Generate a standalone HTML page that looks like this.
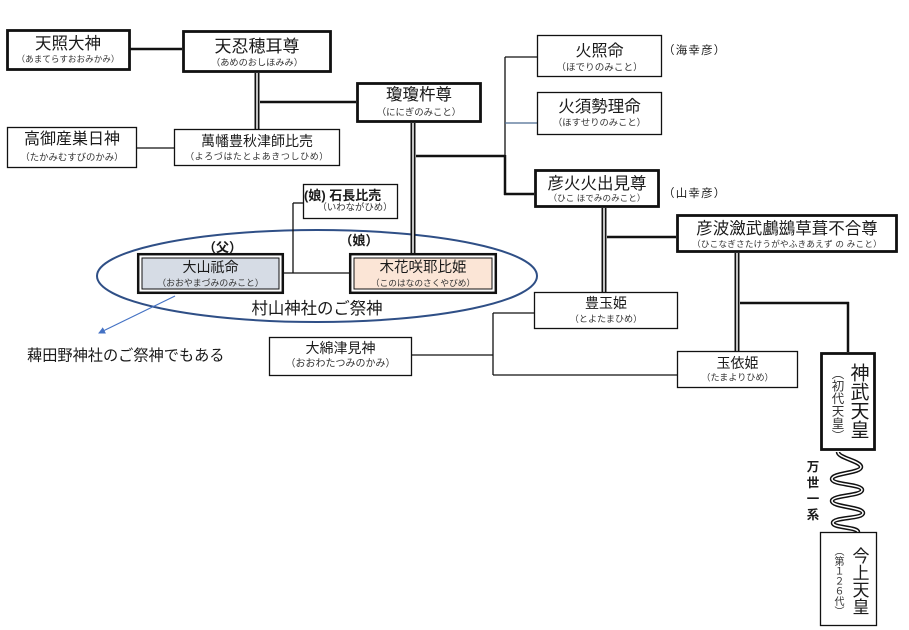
<!DOCTYPE html>
<html><head><meta charset="utf-8"><style>
html,body{margin:0;padding:0;background:#fff;}
body{position:relative;width:909px;height:630px;overflow:hidden;}
svg{display:block;position:absolute;left:0;top:0;}
text{font-family:"Liberation Sans","Noto Sans CJK JP",sans-serif;fill:#1a1a1a;}
.f{fill:#333;}
.v{position:absolute;writing-mode:vertical-rl;font-family:"Liberation Sans","Noto Sans CJK JP",sans-serif;color:#1a1a1a;line-height:1;white-space:nowrap;}
</style></head><body>
<svg width="909" height="630" viewBox="0 0 909 630" xmlns="http://www.w3.org/2000/svg">
<defs>
<marker id="ar" markerWidth="8" markerHeight="8" refX="6" refY="4" orient="auto" markerUnits="userSpaceOnUse">
<path d="M0,0.5 L7,4 L0,7.5 Z" fill="#4472c4"/>
</marker>
</defs>

<!-- ellipse -->
<ellipse cx="317" cy="276" rx="220" ry="46" fill="none" stroke="#2f4f86" stroke-width="2"/>

<!-- thick connectors -->
<g stroke="#111" stroke-width="2.5" fill="none">
<line x1="130" y1="49" x2="182" y2="49"/>
<line x1="260" y1="102" x2="356" y2="102"/>
<line x1="416" y1="156" x2="505" y2="156"/>
<line x1="505" y1="155" x2="505" y2="195"/>
<line x1="504" y1="194" x2="534" y2="194"/>
<line x1="607" y1="237" x2="676" y2="237"/>
<line x1="740" y1="303" x2="849" y2="303"/>
<line x1="848" y1="302" x2="848" y2="352"/>
</g>
<!-- thin connectors -->
<g stroke="#111" stroke-width="1.3" fill="none">
<line x1="137" y1="148" x2="174" y2="148"/>
<line x1="505" y1="57" x2="505" y2="156"/>
<line x1="505" y1="57" x2="537" y2="57"/>
<line x1="493" y1="313" x2="534" y2="313"/>
<line x1="493" y1="313" x2="493" y2="375"/>
<line x1="493" y1="375" x2="677" y2="375"/>
<line x1="412" y1="355" x2="493" y2="355"/>
<line x1="284" y1="273" x2="349" y2="273"/>
<line x1="293" y1="203" x2="293" y2="273"/>
<line x1="293" y1="203" x2="303" y2="203"/>
</g>
<line x1="505" y1="123" x2="537" y2="123" stroke="#4a6a90" stroke-width="1.2"/>

<!-- double lines -->
<g fill="none">
<g stroke="#111" stroke-width="5">
<line x1="257" y1="73" x2="257" y2="129"/>
<line x1="413" y1="123" x2="413" y2="253"/>
<line x1="604" y1="208" x2="604" y2="292"/>
<line x1="737" y1="253" x2="737" y2="351"/>
</g>
<g stroke="#fff" stroke-width="1.5">
<line x1="257" y1="73" x2="257" y2="129"/>
<line x1="413" y1="123" x2="413" y2="253"/>
<line x1="604" y1="208" x2="604" y2="292"/>
<line x1="737" y1="253" x2="737" y2="351"/>
</g>
</g>

<!-- wave -->
<path id="wv" d="M838,452 C838,458 861,461 861,467 C861,473 832,473 832,479 C832,485 862,484 862,490 C862,496 832,495 832,501 C832,507 863,507 863,513 C863,519 833,517 833,523 C833,528 858,527 858,532" fill="none" stroke="#111" stroke-width="4.5"/>
<path d="M838,452 C838,458 861,461 861,467 C861,473 832,473 832,479 C832,485 862,484 862,490 C862,496 832,495 832,501 C832,507 863,507 863,513 C863,519 833,517 833,523 C833,528 858,527 858,532" fill="none" stroke="#fff" stroke-width="1.5"/>

<!-- arrow -->
<line x1="175" y1="296" x2="99" y2="333" stroke="#4472c4" stroke-width="1.2" marker-end="url(#ar)"/>

<!-- boxes: thick -->
<g fill="#fff" stroke="#111" stroke-width="2.8">
<rect x="7.5" y="30.5" width="122" height="39"/>
<rect x="183.5" y="31.5" width="147" height="40"/>
<rect x="357.5" y="83.5" width="123" height="38"/>
<rect x="535.5" y="170.5" width="123" height="36"/>
<rect x="677.5" y="215.5" width="219" height="36"/>
<rect x="821.5" y="353.5" width="53" height="96"/>
</g>
<!-- boxes: thin -->
<g fill="#fff" stroke="#111" stroke-width="1.3">
<rect x="7.5" y="127.5" width="129" height="40"/>
<rect x="174.5" y="129.5" width="165" height="36"/>
<rect x="537.5" y="35.5" width="124" height="41"/>
<rect x="537.5" y="92.5" width="124" height="42"/>
<rect x="534.5" y="292.5" width="143" height="36"/>
<rect x="677.5" y="351.5" width="120" height="36"/>
<rect x="269.5" y="337.5" width="142" height="38"/>
<rect x="303.5" y="184.5" width="94" height="34"/>
<rect x="820.5" y="532.5" width="56" height="93"/>
</g>
<!-- double bordered -->
<rect x="138.2" y="254.2" width="144.6" height="38.6" fill="#fff" stroke="#111" stroke-width="2.5"/>
<rect x="142" y="258" width="137" height="31" fill="#d6dce5" stroke="#111" stroke-width="1"/>
<rect x="350.2" y="254.2" width="145.6" height="38.6" fill="#fff" stroke="#111" stroke-width="2.5"/>
<rect x="354" y="258" width="138" height="31" fill="#fbe5d6" stroke="#111" stroke-width="1"/>

<!-- text -->
<g text-anchor="middle">
<text x="68" y="49" font-size="16.5">天照大神</text>
<text class="f" x="68" y="62" font-size="8.6">（あまてらすおおみかみ）</text>

<text x="257" y="52" font-size="17">天忍穂耳尊</text>
<text class="f" x="257" y="65.5" font-size="9.2">（あめのおしほみみ）</text>

<text x="419" y="100" font-size="16.5">瓊瓊杵尊</text>
<text class="f" x="419" y="115.5" font-size="9.4">（ににぎのみこと）</text>

<text x="72" y="144" font-size="16">高御産巣日神</text>
<text class="f" x="72" y="160.5" font-size="9.4">（たかみむすびのかみ）</text>

<text x="257" y="146" font-size="14">萬幡豊秋津師比売</text>
<text class="f" x="257" y="159.5" font-size="9" letter-spacing="0.6">（よろづはたとよあきつしひめ）</text>

<text x="599.5" y="56" font-size="16">火照命</text>
<text class="f" x="599.5" y="70.5" font-size="9.6">（ほでりのみこと）</text>

<text x="599.5" y="112" font-size="16.5">火須勢理命</text>
<text class="f" x="599.5" y="125.5" font-size="9.3">（ほすせりのみこと）</text>

<text x="597" y="189" font-size="16.5">彦火火出見尊</text>
<text class="f" x="597" y="201" font-size="8.6">（ひこ ほでみのみこと）</text>

<text x="787" y="234" font-size="16.5">彦波瀲武鸕鷀草葺不合尊</text>
<text class="f" x="787" y="247" font-size="8.6" letter-spacing="0.2">（ひこなぎさたけうがやふきあえず の みこと）</text>

<text x="606" y="308" font-size="14">豊玉姫</text>
<text class="f" x="606" y="322" font-size="9.1">（とよたまひめ）</text>

<text x="737.5" y="368" font-size="14">玉依姫</text>
<text class="f" x="737.5" y="380.5" font-size="9.1">（たまよりひめ）</text>

<text x="340.5" y="353" font-size="14">大綿津見神</text>
<text class="f" x="340.5" y="366.5" font-size="10">（おおわたつみのかみ）</text>

<text x="210.5" y="272" font-size="14">大山祇命</text>
<text class="f" x="210.5" y="286" font-size="8.9">（おおやまづみのみこと）</text>

<text x="423" y="272" font-size="14.5">木花咲耶比姫</text>
<text class="f" x="423" y="286" font-size="8.7">（このはなのさくやびめ）</text>

<text class="f" x="355" y="210.5" font-size="9.4">（いわながひめ）</text>

<text x="222.5" y="252" font-size="13" font-weight="bold">（父）</text>
<text x="359" y="245" font-size="13" font-weight="bold">（娘）</text>

<text x="317" y="314" font-size="16.4">村山神社のご祭神</text>

<text x="813" y="471" font-size="12.5" font-weight="bold">万</text>
<text x="813" y="487" font-size="12.5" font-weight="bold">世</text>
<text x="813" y="503" font-size="12.5" font-weight="bold">一</text>
<text x="813" y="519" font-size="12.5" font-weight="bold">系</text>
</g>

<text x="304" y="200" font-size="13" font-weight="bold">(娘) 石長比売</text>
<text x="663" y="54" font-size="11.5" letter-spacing="1.2">（海幸彦）</text>
<text x="663" y="197" font-size="11.5" letter-spacing="1.2">（山幸彦）</text>
<text x="27" y="360.5" font-size="15.2">薭田野神社のご祭神でもある</text>
</svg>

<div class="v" style="left:848.5px;top:363px;font-size:19px;">神武天皇</div>
<div class="v" style="left:830px;top:367px;font-size:12.5px;color:#333;">（初代天皇）</div>
<div class="v" style="left:850.5px;top:546.5px;font-size:17px;">今上天皇</div>
<div class="v" style="left:832px;top:546px;font-size:10px;color:#333;">（第１２６代）</div>
</body></html>
